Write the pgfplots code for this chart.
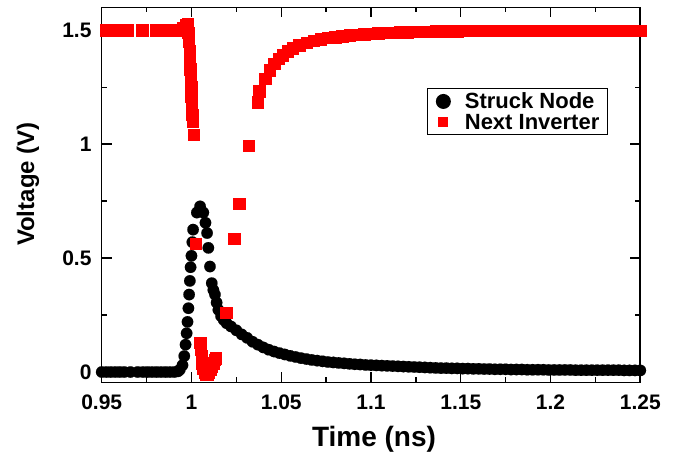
\documentclass[border=0pt]{standalone}
\usepackage{pgfplots}
\pgfplotsset{compat=1.18}
\usepackage{fontspec}
\setmainfont{Liberation Sans}
\begin{document}
\begin{tikzpicture}
\useasboundingbox (-101.7pt,-74.5pt) rectangle (576.3pt,382.5pt);
\begin{axis}[
  at={(0pt,0pt)}, anchor=south west,
  scale only axis, width=538.6pt, height=375pt,
  xmin=0.95, xmax=1.25, ymin=-0.046, ymax=1.6,
  xtick={0.95,1,1.05,1.1,1.15,1.2,1.25},
  ytick={0,0.5,1,1.5},
  minor x tick num=1, minor y tick num=1,
  tick align=inside,
  major tick length=10pt, minor tick length=5pt,
  every tick/.style={black, line width=1.4pt},
  axis line style={line width=1.6pt},
  /pgf/number format/assume math mode=true,
  tick label style={font=\fontsize{21}{21}\selectfont\bfseries},
  xticklabel style={anchor=base, inner sep=0pt, yshift=-27.5pt},
  yticklabel style={anchor=base east, inner sep=0pt, xshift=-10pt, yshift=-7.5pt},
  xlabel={Time (ns)}, ylabel={Voltage (V)},
  xlabel style={font=\fontsize{28}{28}\selectfont\bfseries, at={(axis description cs:0.5056,-0.1712)}, anchor=base},
  ylabel style={font=\fontsize{24}{24}\selectfont\bfseries, at={(axis description cs:-0.1253,0.529)}, anchor=base},
  clip=false,
  legend style={at={(axis description cs:0.940,0.785)}, anchor=north east, draw=black, line width=1.2pt,
    font=\fontsize{22}{22}\selectfont\bfseries, inner xsep=8pt, inner ysep=4pt, row sep=4pt,
    nodes={inner sep=0pt},
    /tikz/every odd column/.append style={column sep=14pt}},
  legend cell align=left,
]
\addplot[black, only marks, mark=*, mark size=5.75pt, mark options={fill=black, draw=black, line width=0.1pt},
  legend image code/.code={\fill[black, draw=none] (10pt,0pt) circle (7.5pt);}] coordinates {
(0.9500,0) (0.9525,0) (0.9550,0) (0.9575,0) (0.9600,0) (0.9625,0) (0.9660,0) (0.9700,0)
(0.9730,0) (0.9755,0) (0.9780,0) (0.9805,0) (0.9830,0) (0.9855,0) (0.9880,0) (0.9905,0) (0.9925,0.003)
(0.9935,0.01) (0.9950,0.03) (0.9960,0.07) (0.9967,0.12) (0.9973,0.17) (0.9978,0.22) (0.9983,0.28)
(0.9987,0.34) (0.9991,0.40) (0.9995,0.46) (1.0000,0.51) (1.0005,0.57) (1.0009,0.625) (1.0030,0.70)
(1.0048,0.727) (1.0066,0.70) (1.0078,0.655) (1.0087,0.61) (1.0094,0.545) (1.0103,0.463) (1.0113,0.39)
(1.0122,0.36) (1.0131,0.34) (1.0140,0.305) (1.0150,0.273) (1.0165,0.245) (1.0180,0.228) (1.0196,0.214)
(1.0220,0.200) (1.0250,0.183) (1.0280,0.165) (1.0310,0.150) (1.0340,0.133) (1.0370,0.120) (1.0400,0.108)
(1.0430,0.098) (1.0460,0.090) (1.0490,0.083) (1.0520,0.077) (1.0550,0.071) (1.0580,0.066) (1.0610,0.061)
(1.0640,0.057) (1.0670,0.053) (1.0700,0.050) (1.0730,0.047) (1.0760,0.044) (1.0790,0.042) (1.0820,0.040)
(1.0850,0.038) (1.0880,0.036) (1.0910,0.034) (1.0940,0.033) (1.0970,0.031) (1.1000,0.030) (1.1030,0.029)
(1.1060,0.028) (1.1090,0.027) (1.1120,0.026) (1.1150,0.025) (1.1180,0.024) (1.1210,0.023) (1.1240,0.022)
(1.1270,0.021) (1.1300,0.020) (1.1330,0.019) (1.1360,0.018) (1.1390,0.017) (1.1420,0.017) (1.1450,0.016)
(1.1480,0.016) (1.1510,0.015) (1.1540,0.015) (1.1570,0.014) (1.1600,0.014) (1.1630,0.013) (1.1660,0.013)
(1.1690,0.012) (1.1720,0.012) (1.1750,0.012) (1.1780,0.011) (1.1810,0.011) (1.1840,0.011) (1.1870,0.010)
(1.1900,0.010) (1.1930,0.010) (1.1960,0.010) (1.1990,0.009) (1.2020,0.009) (1.2050,0.009) (1.2080,0.009)
(1.2110,0.009) (1.2140,0.008) (1.2170,0.008) (1.2200,0.008) (1.2230,0.008) (1.2260,0.008) (1.2290,0.008)
(1.2320,0.008) (1.2350,0.008) (1.2380,0.008) (1.2410,0.007) (1.2440,0.007) (1.2470,0.007) (1.2500,0.007)
};
\addlegendentry{Struck Node}
\addplot[red, only marks, mark=square*, mark size=5.75pt, mark options={fill=red, draw=red, line width=0.1pt},
  legend image code/.code={\fill[red, draw=none] (5pt,-5pt) rectangle (15pt,5pt);}] coordinates {
(0.9524,1.5) (0.9591,1.5) (0.9644,1.5) (0.9725,1.5) (0.9802,1.5) (0.9841,1.5) (0.9880,1.5) (0.9920,1.5)
(0.9953,1.51) (0.9970,1.525) (0.9978,1.53) (0.9982,1.49) (0.9985,1.45) (0.9988,1.41) (0.9990,1.37)
(0.9993,1.33) (0.9995,1.29) (0.9997,1.25) (0.9999,1.21) (1.0001,1.17) (1.0003,1.13) (1.0006,1.10)
(1.0011,1.043) (1.0022,0.563) (1.0048,0.13) (1.0050,0.10) (1.0055,0.07) (1.0060,0.04) (1.0065,0.015)
(1.0072,-0.003) (1.0080,-0.008) (1.0088,-0.008) (1.0096,-0.003) (1.0104,0.01) (1.0112,0.025)
(1.0120,0.04) (1.0128,0.055) (1.0134,0.062) (1.0193,0.262) (1.0237,0.585) (1.0265,0.739) (1.0318,0.995)
(1.0368,1.185) (1.0377,1.233) (1.0410,1.289) (1.0435,1.325) (1.0460,1.355) (1.0485,1.375) (1.0507,1.391)
(1.0535,1.408) (1.0563,1.421) (1.0600,1.436) (1.0640,1.446) (1.0680,1.455) (1.0720,1.461) (1.0760,1.467)
(1.0800,1.471) (1.0840,1.475) (1.0880,1.478) (1.0920,1.481) (1.0960,1.484) (1.1000,1.486) (1.1040,1.488)
(1.1080,1.489) (1.1120,1.491) (1.1160,1.492) (1.1200,1.493) (1.1240,1.494) (1.1280,1.495) (1.1320,1.495)
(1.1360,1.496) (1.1400,1.497) (1.1440,1.497) (1.1480,1.497) (1.1520,1.498) (1.1560,1.498) (1.1600,1.498)
(1.1640,1.498) (1.1680,1.498) (1.1720,1.498) (1.1760,1.498) (1.1800,1.498) (1.1840,1.498) (1.1880,1.498)
(1.1920,1.498) (1.1960,1.498) (1.2000,1.498) (1.2040,1.498) (1.2080,1.498) (1.2120,1.498) (1.2160,1.498)
(1.2200,1.498) (1.2240,1.498) (1.2280,1.498) (1.2320,1.498) (1.2360,1.498) (1.2400,1.498) (1.2440,1.498)
(1.2480,1.498) (1.2500,1.498)
};
\addlegendentry{Next Inverter}
\end{axis}
\end{tikzpicture}
\end{document}
